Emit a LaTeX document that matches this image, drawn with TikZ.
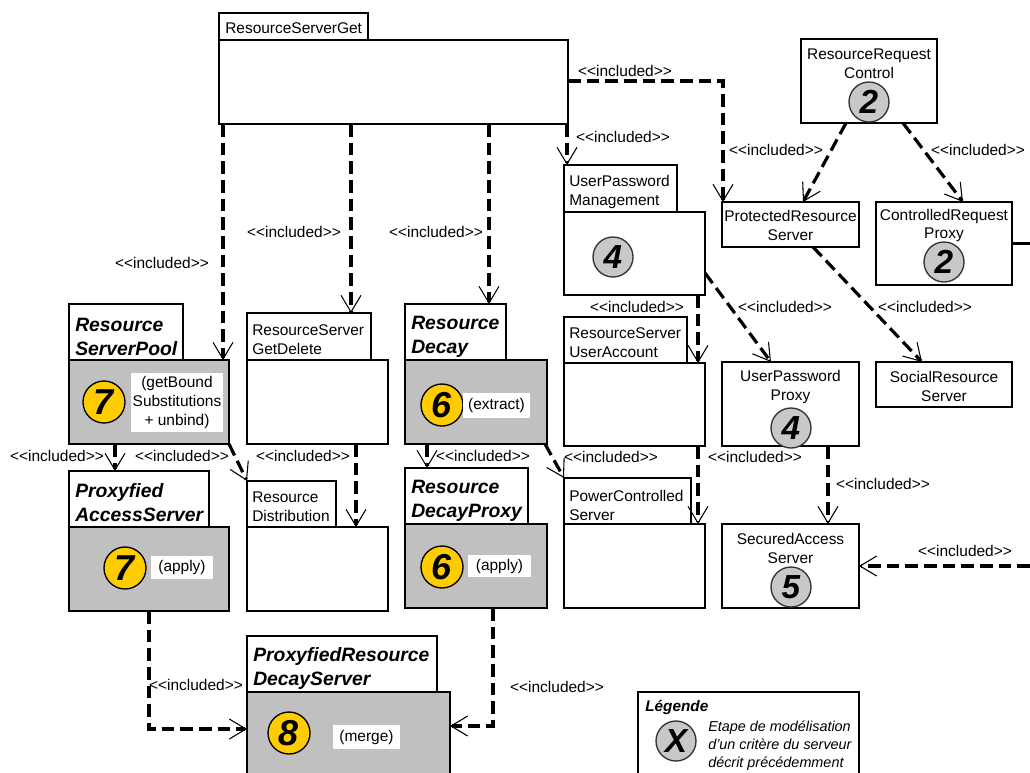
\documentclass[tikz,border=0pt]{standalone}
\usepackage{fontspec}
\setmainfont{Liberation Sans}
\usetikzlibrary{arrows.meta,calc}
\definecolor{pkgGray}{RGB}{192,192,192}
\definecolor{stepYellow}{RGB}{255,204,0}
\definecolor{stepGray}{RGB}{200,200,200}
\newcommand\inclTxt{<\kern0pt<included>\kern0pt>}
\newcommand\mkbox[6]{%
  \pgfmathsetmacro\mkW{(#5-#3)*0.75}%
  \pgfmathsetmacro\mkH{(#6-#4)*0.75}%
  \node[#2,minimum width=\mkW pt,minimum height=\mkH pt,anchor=north west] (#1) at (#3,#4) {};}
\tikzset{
  pbox/.style={draw=black,line width=1pt,fill=white,inner sep=0pt,outer sep=0pt},
  gbox/.style={pbox,fill=pkgGray},
  txt/.style={font=\fontsize{11.6}{14.2}\selectfont,inner sep=0pt},
  tabtxt/.style={txt,align=left,anchor=west},
  ctxt/.style={txt,align=center},
  ttl/.style={font=\fontsize{14.5}{18}\selectfont\bfseries\itshape,inner sep=0pt,align=left,anchor=west},
  inc/.style={line width=2.4pt,dash pattern=on 9.5pt off 4.5pt,-{Straight Barb[length=12.5pt,width=15pt,line width=0.8pt]}},
  lbl/.style={txt},
  yellowcirc/.style={circle,draw=black,line width=1pt,fill=stepYellow,minimum size=31.5pt,inner sep=0pt,font=\fontsize{27}{27}\selectfont\bfseries\itshape},
  graycirc/.style={circle,draw=black!80,line width=1pt,fill=stepGray,minimum size=30pt,inner sep=0pt,font=\fontsize{25}{25}\selectfont\bfseries\itshape},
  wnote/.style={fill=white,inner sep=0pt,align=center,txt},
}
\begin{document}
\begin{tikzpicture}[x=0.75pt,y=-0.75pt]
\clip (0,0) rectangle (1030,772);
\fill[white] (0,0) rectangle (1030,772);
% ---------- boxes ----------
\mkbox{rsgT}{pbox}{219}{13}{368}{40}
\mkbox{rsg}{pbox}{219}{40}{568}{124}
\mkbox{upmT}{pbox}{564}{165}{677}{212}
\mkbox{upm}{pbox}{564}{212}{705}{295}
\mkbox{prs}{pbox}{722}{202}{859}{247}
\mkbox{rrc}{pbox}{801}{39}{937}{123}
\mkbox{crp}{pbox}{876}{202}{1012}{285}
\mkbox{srs}{pbox}{876}{362}{1012}{407}
\mkbox{upp}{pbox}{722}{362}{859}{446}
\mkbox{sas}{pbox}{722}{524}{859}{608}
\mkbox{rsuaT}{pbox}{564}{317}{687}{363}
\mkbox{rsua}{pbox}{564}{363}{705}{446}
\mkbox{pcsT}{pbox}{564}{478}{691}{524}
\mkbox{pcs}{pbox}{564}{524}{705}{608}
\mkbox{rspT}{pbox}{69}{304}{183}{360}
\mkbox{rsp}{gbox}{69}{360}{229}{444}
\mkbox{pasT}{pbox}{69}{471}{209}{527}
\mkbox{pas}{gbox}{69}{527}{229}{611}
\mkbox{rsgdT}{pbox}{247}{313}{371}{360}
\mkbox{rsgd}{pbox}{247}{360}{388}{444}
\mkbox{rdT}{pbox}{247}{481}{336}{527}
\mkbox{rdist}{pbox}{247}{527}{388}{611}
\mkbox{rdecT}{pbox}{405}{304}{506}{360}
\mkbox{rdec}{gbox}{405}{360}{547}{444}
\mkbox{rdpT}{pbox}{405}{468}{528}{524}
\mkbox{rdp}{gbox}{405}{524}{547}{608}
\mkbox{prdsT}{pbox}{247}{636}{437}{692}
\mkbox{prds}{gbox}{247}{692}{450}{790}
\mkbox{leg}{pbox}{638}{692}{859}{790}
% ---------- texts ----------
\node[tabtxt] (tRsg) at (225,28) {ResourceServerGet};
\node[tabtxt] (tUpm) at (569,192) {UserPassword\\Management};
\node[ctxt] (tPrs) at (790.5,225.5) {ProtectedResource\\Server};
\node[ctxt] (tRrc) at (869,64) {ResourceRequest\\Control};
\node[ctxt] (tCrp) at (944,225.5) {ControlledRequest\\Proxy};
\node[ctxt] (tSrs) at (944,386.5) {SocialResource\\Server};
\node[ctxt] (tUpp) at (790.5,387) {UserPassword\\Proxy};
\node[ctxt] (tSas) at (790.5,548) {SecuredAccess\\Server};
\node[tabtxt] (tRsua) at (569,343) {ResourceServer\\UserAccount};
\node[tabtxt] (tPcs) at (569,505) {PowerControlled\\Server};
\node[tabtxt] (tRsgd) at (252,340) {ResourceServer\\GetDelete};
\node[tabtxt] (tRd) at (252,507) {Resource\\Distribution};
\node[ttl] (tRsp) at (75,337) {Resource\\ServerPool};
\node[ttl] (tPas) at (75,503) {Proxyfied\\AccessServer};
\node[ttl] (tRdec) at (411,337) {Resource\\Decay};
\node[ttl] (tRdp) at (411,501) {Resource\\DecayProxy};
\node[ttl] (tPrds) at (253,668) {ProxyfiedResource\\DecayServer};
% ---------- step circles ----------
\node[graycirc] (s4a) at (613,257) {4};
\node[graycirc] (s2a) at (869,102) {2};
\node[graycirc] (s2b) at (944,262) {2};
\node[graycirc] (s4b) at (791,428) {4};
\node[graycirc] (s5) at (791,587) {5};
\node[yellowcirc] (s7a) at (104,402) {7};
\node[yellowcirc] (s7b) at (125,568) {7};
\node[yellowcirc] (s6a) at (442,405) {6};
\node[yellowcirc] (s6b) at (442,567) {6};
\node[yellowcirc] (s8) at (289,733) {8};
% ---------- white notes ----------
\node[wnote,minimum width=69pt,minimum height=44pt] (n1) at (177,402.5) {(getBound\\Substitutions\\+ unbind)};
\node[wnote,minimum width=46.5pt,minimum height=17.25pt] (n2) at (182,567.5) {(apply)};
\node[wnote,minimum width=50.25pt,minimum height=18.75pt] (n3) at (496.5,405.5) {(extract)};
\node[wnote,minimum width=47.25pt,minimum height=16.5pt] (n4) at (499.5,566) {(apply)};
\node[wnote,minimum width=50.25pt,minimum height=18pt] (n5) at (366.5,737) {(merge)};
% ---------- legend ----------
\node[font=\fontsize{11.5}{14}\selectfont\bfseries\itshape,inner sep=0pt,anchor=west] (legT) at (645,707) {Légende};
\node[graycirc] (sX) at (676,741) {X};
\node[font=\fontsize{10.8}{13.5}\selectfont\itshape,inner sep=0pt,align=left,anchor=west] (legD) at (708,746) {Etape de modélisation\\d'un critère du serveur\\décrit précédemment};
% ---------- connectors ----------
\coordinate (rEdge) at (1030,566);
\coordinate (crpOut) at (1030,243.5);
\draw[line width=2.4pt] (crp.east) -- (crpOut);
\draw[inc] ($(rsg.south west)+(4,0)$) -- ($(rsp.north west)+(154,0)$);
\draw[inc] ($(rsg.south west)+(132,0)$) -- ($(rsgdT.north west)+(104,0)$);
\draw[inc] ($(rsg.south west)+(270,0)$) -- ($(rdecT.north west)+(84,0)$);
\draw[inc] ($(rsg.south east)+(-1,0)$) -- ($(upmT.north west)+(3,0)$);
\draw[inc] ($(rsg.north east)+(0,41)$) -| ($(prs.north west)+(1,0)$);
\draw[inc] ($(rrc.south west)+(45,0)$) -- ($(prs.north west)+(81,0)$);
\draw[inc] ($(rrc.south west)+(102,0)$) -- ($(crp.north west)+(87,0)$);
\draw[inc] ($(prs.south west)+(91,0)$) -- ($(srs.north west)+(46,0)$);
\draw[inc] ($(upm.north east)+(0,61)$) -- ($(upp.north west)+(49,0)$);
\draw[inc] ($(upm.south east)+(-7,0)$) -- ($(rsua.north east)+(-7,0)$);
\draw[inc] ($(rsua.south east)+(-7,0)$) -- ($(pcs.north east)+(-7,0)$);
\draw[inc] ($(upp.south west)+(106,0)$) -- ($(sas.north west)+(106,0)$);
\draw[inc] (rEdge) -- ($(sas.north east)+(0,42)$);
\draw[inc] ($(rsp.south west)+(46,0)$) -- ($(pasT.north west)+(46,0)$);
\draw[inc] (rsp.south east) -- (rdT.north west);
\draw[inc] ($(rsgd.south west)+(109,0)$) -- ($(rdist.north west)+(109,0)$);
\draw[inc] ($(rdec.south west)+(22,0)$) -- ($(rdpT.north west)+(22,0)$);
\draw[inc] ($(rdec.south east)+(-2,0)$) -- (pcsT.north west);
\draw[inc] ($(pas.south west)+(80,0)$) |- ($(prds.north west)+(0,37)$);
\draw[inc] ($(rdp.south west)+(88,0)$) |- ($(prds.north east)+(0,34)$);
% ---------- connector labels ----------
\node[lbl] (l1) at (162,263) {\inclTxt};
\node[lbl] (l2) at (294,232) {\inclTxt};
\node[lbl] (l3) at (436,232) {\inclTxt};
\node[lbl] (l4) at (623,137) {\inclTxt};
\node[lbl] (l5) at (625,71) {\inclTxt};
\node[lbl] (l6) at (776,150) {\inclTxt};
\node[lbl] (l7) at (978,150) {\inclTxt};
\node[lbl] (l8) at (925,307) {\inclTxt};
\node[lbl] (l9) at (785,307) {\inclTxt};
\node[lbl] (l10) at (637,307) {\inclTxt};
\node[lbl] (l11) at (755,457) {\inclTxt};
\node[lbl] (l12) at (883,484) {\inclTxt};
\node[lbl] (l13) at (965,551) {\inclTxt};
\node[lbl] (l14) at (57,456) {\inclTxt};
\node[lbl] (l15) at (182,456) {\inclTxt};
\node[lbl] (l16) at (303,456) {\inclTxt};
\node[lbl] (l17) at (483,456) {\inclTxt};
\node[lbl] (l18) at (611,457) {\inclTxt};
\node[lbl] (l19) at (196,685) {\inclTxt};
\node[lbl] (l20) at (557,687) {\inclTxt};
\end{tikzpicture}
\end{document}
